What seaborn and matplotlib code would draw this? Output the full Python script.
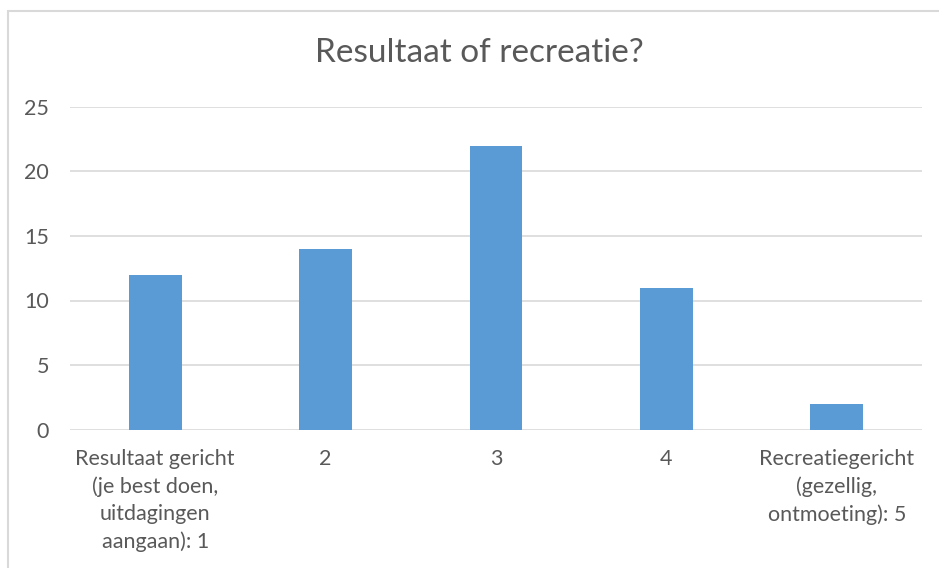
import matplotlib
matplotlib.use("Agg")
from matplotlib import pyplot as plt
from matplotlib.patches import Rectangle
import pandas as pd
import seaborn as sns

# data
categories = [
    "Resultaat gericht\n(je best doen,\nuitdagingen\naangaan): 1",
    "2",
    "3",
    "4",
    "Recreatiegericht\n(gezellig,\nontmoeting): 5",
]
aantallen = [12, 14, 22, 11, 2]
y_ticks = [0, 5, 10, 15, 20, 25]

df = pd.DataFrame({"categorie": categories, "aantal": aantallen})

sns.set_style("white")
plt.rcParams["font.family"] = ["Lato", "DejaVu Sans"]

text_col = "#595959"
grid_col = "#D9D9D9"

fig = plt.figure(figsize=(9.39, 5.68), dpi=100)
ax = fig.add_axes([70 / 939, 138.5 / 568, 852 / 939, 322.5 / 568])

sns.barplot(data=df, x="categorie", y="aantal", color="#5B9BD5",
            width=0.31, saturation=1, linewidth=0, ax=ax, zorder=3)

ax.set_ylim(0, 25)
ax.set_yticks(y_ticks)
ax.yaxis.grid(True, color=grid_col, linewidth=1.2, zorder=0)
ax.set_axisbelow(True)
for s in ax.spines.values():
    s.set_visible(False)
ax.tick_params(axis="both", length=0, labelsize=15.5, colors=text_col)
ax.tick_params(axis="y", pad=15)
ax.tick_params(axis="x", pad=14)
for lbl in ax.get_xticklabels():
    lbl.set_linespacing(1.45)
    lbl.set_va("top")
ax.set_xlabel("")
ax.set_ylabel("")

fig.text(479 / 939, 1 - 53 / 568, "Resultaat of recreatie?", ha="center",
         va="center", fontsize=24, color=text_col)

# chart border like the spreadsheet frame
fig.patches.append(Rectangle((8 / 939, -0.1), 1.2, 1.1 - 11 / 568,
                             transform=fig.transFigure, fill=False,
                             edgecolor=grid_col, linewidth=1.5))

fig.savefig("out.png", dpi=100)
